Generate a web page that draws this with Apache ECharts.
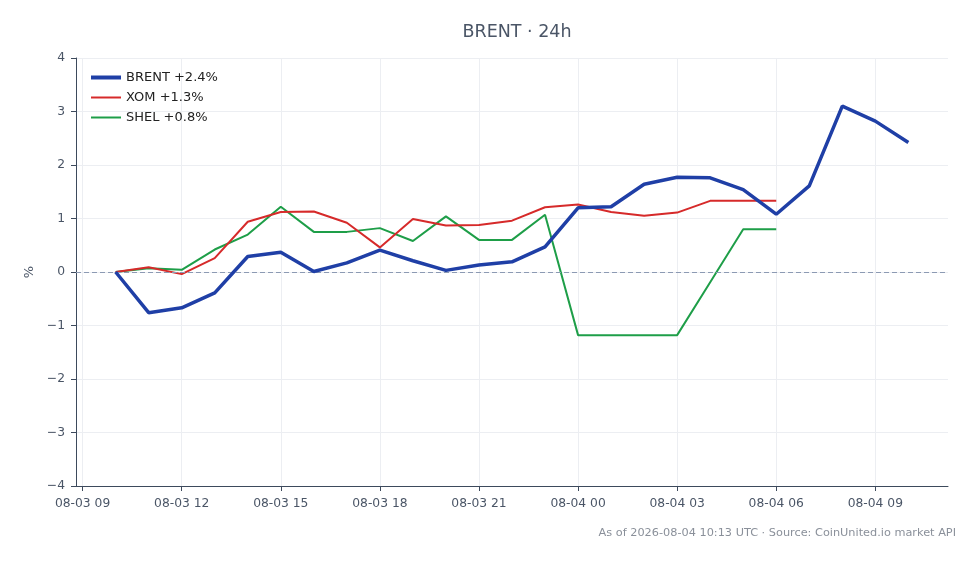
<!DOCTYPE html>
<html>
<head>
<meta charset="utf-8">
<script src="https://cdn.jsdelivr.net/npm/echarts@6/dist/echarts.min.js"></script>
<style>
  html, body { margin: 0; padding: 0; background: #fff; }
  #chart { width: 980px; height: 564px; }
</style>
</head>
<body>
<div id="chart"></div>
<script>
// hourly samples, 08-03 10:00 UTC .. 08-04 10:00 UTC (x = hours since 08-03 00:00)
var startHour = 10;

var brent = [0, -0.76, -0.67, -0.39, 0.29, 0.37, 0.01, 0.17, 0.41, 0.21, 0.03, 0.13, 0.19,
             0.47, 1.20, 1.22, 1.64, 1.77, 1.76, 1.54, 1.08, 1.61, 3.10, 2.82, 2.42];
var xom   = [0, 0.09, -0.04, 0.26, 0.94, 1.12, 1.13, 0.92, 0.46, 0.99, 0.87, 0.88, 0.96,
             1.21, 1.26, 1.12, 1.05, 1.11, 1.33, 1.33, 1.33];
var shel  = [0, 0.07, 0.04, 0.42, 0.70, 1.22, 0.75, 0.75, 0.82, 0.58, 1.04, 0.60, 0.60,
             1.07, -1.18, -1.18, -1.18, -1.18, -0.19, 0.80, 0.80];

var seriesNames = ['BRENT +2.4%', 'XOM +1.3%', 'SHEL +0.8%'];
var tickHours = [9, 12, 15, 18, 21, 24, 27, 30, 33];
var yTicks = [-4, 4, 1];  // min, max, step

function toPairs(arr) {
    return arr.map(function (v, i) { return [startHour + i, v]; });
}
function pad(n) { return (n < 10 ? '0' : '') + n; }
function hourLabel(h) {
    var day = 3 + Math.floor(h / 24);
    return '08-' + pad(day) + ' ' + pad(Math.round(h) % 24);
}

var span = brent.length - 1;
var thickIcon = 'path://M0,0H30V4H0Z';
var thinIcon = 'path://M0,0H30V2H0Z';

var chart = echarts.init(document.getElementById('chart'));
var font = 'DejaVu Sans';

chart.setOption({
    animation: false,
    textStyle: { fontFamily: font },
    title: {
        text: 'BRENT · 24h',
        left: 512, top: 18, textAlign: 'center',
        textStyle: { fontSize: 17.5, fontWeight: 'normal', color: '#4a5566', fontFamily: font }
    },
    grid: { left: 76, right: 32, top: 58, bottom: 78 },
    legend: {
        orient: 'vertical',
        left: 86, top: 66,
        itemWidth: 30, itemHeight: 14, itemGap: 7,
        symbolKeepAspect: true,
        textStyle: { fontSize: 13, color: '#222', fontFamily: font },
        data: [
            { name: seriesNames[0], icon: thickIcon },
            { name: seriesNames[1], icon: thinIcon },
            { name: seriesNames[2], icon: thinIcon }
        ]
    },
    xAxis: {
        type: 'value',
        min: startHour - span * 0.05,
        max: startHour + span * 1.05,
        axisLine: { show: true, onZero: false, lineStyle: { color: '#3d4a5c', width: 1 } },
        axisTick: { show: true, customValues: tickHours, length: 5, lineStyle: { color: '#3d4a5c' } },
        axisLabel: {
            customValues: tickHours,
            color: '#4a5566', fontSize: 12.3, margin: 12,
            formatter: hourLabel
        },
        splitLine: { show: true, lineStyle: { color: '#eceef2', width: 1 } }
    },
    yAxis: {
        type: 'value',
        min: yTicks[0], max: yTicks[1], interval: yTicks[2],
        name: '%',
        nameLocation: 'middle', nameGap: 40, nameRotate: 90,
        nameTextStyle: { color: '#4a5566', fontSize: 13 },
        axisLine: { show: true, lineStyle: { color: '#3d4a5c', width: 1 } },
        axisTick: { show: true, length: 5, lineStyle: { color: '#3d4a5c' } },
        axisLabel: {
            color: '#4a5566', fontSize: 12.3, margin: 11,
            formatter: function (v) { return v < 0 ? '\u2212' + Math.abs(v) : String(v); }
        },
        splitLine: { show: true, lineStyle: { color: '#eceef2', width: 1 } }
    },
    series: [
        {
            name: seriesNames[0], type: 'line', data: toPairs(brent),
            symbol: 'none', z: 5,
            lineStyle: { color: '#1f3fa6', width: 3.5 },
            itemStyle: { color: '#1f3fa6' },
            markLine: {
                silent: true, symbol: 'none', label: { show: false },
                lineStyle: { color: '#8c9ab3', type: [5, 3], width: 1 },
                data: [{ yAxis: 0 }]
            }
        },
        {
            name: seriesNames[1], type: 'line', data: toPairs(xom),
            symbol: 'none', z: 4,
            lineStyle: { color: '#d62a2a', width: 2 },
            itemStyle: { color: '#d62a2a' }
        },
        {
            name: seriesNames[2], type: 'line', data: toPairs(shel),
            symbol: 'none', z: 3,
            lineStyle: { color: '#1e9e48', width: 2 },
            itemStyle: { color: '#1e9e48' }
        }
    ],
    graphic: [{
        type: 'text', right: 24, top: 528,
        style: {
            text: 'As of 2026-08-04 10:13 UTC · Source: CoinUnited.io market API',
            fill: '#8a909a', fontSize: 11.3, fontFamily: font
        }
    }]
});
</script>
</body>
</html>
